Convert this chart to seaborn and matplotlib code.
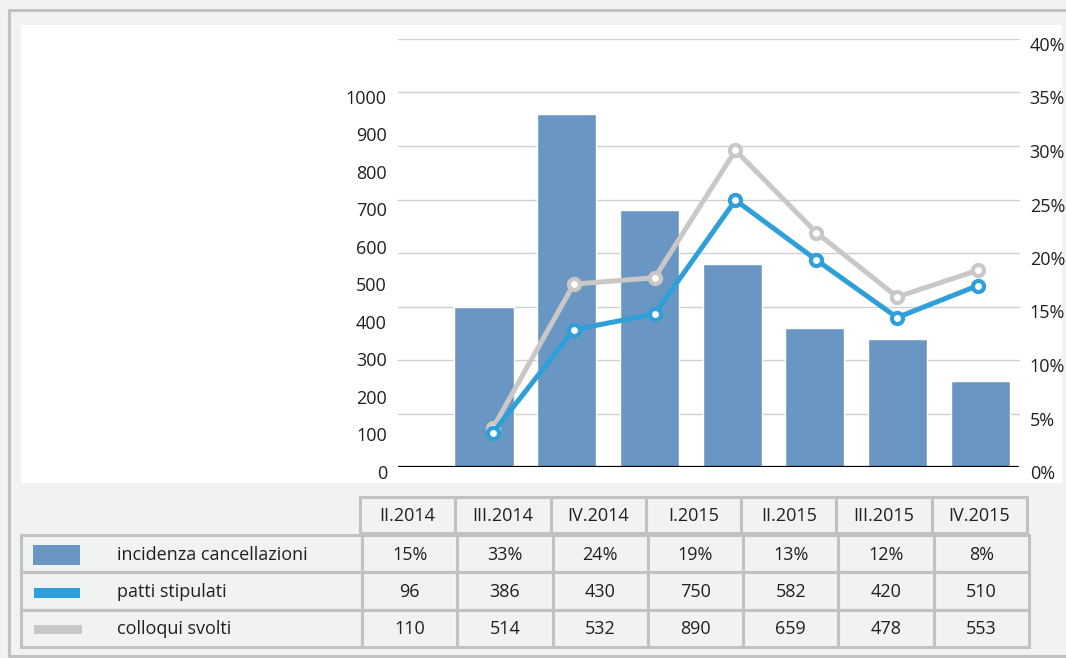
import numpy as np
import pandas as pd
import matplotlib
matplotlib.use("Agg")
import matplotlib.pyplot as plt
import matplotlib.transforms as mtransforms
from matplotlib.patches import Rectangle
from matplotlib.lines import Line2D
import seaborn as sns

# -------------------------------
# DATA
# -------------------------------
quarters = ["II.2014", "III.2014", "IV.2014", "I.2015", "II.2015", "III.2015", "IV.2015"]
incidenza = [15, 33, 24, 19, 13, 12, 8]          # % cancellazioni (bars, right axis)
patti = [96, 386, 430, 750, 582, 420, 510]        # patti stipulati (line, left axis)
colloqui = [110, 514, 532, 890, 659, 478, 553]    # colloqui svolti (line, left axis)

series_names = ["incidenza cancellazioni", "patti stipulati", "colloqui svolti"]
left_ticks = [0, 100, 200, 300, 400, 500, 600, 700, 800, 900, 1000]
right_ticks = [0, 5, 10, 15, 20, 25, 30, 35, 40]

# -------------------------------
# STYLE
# -------------------------------
BAR_COLOR = "#6a96c3"
PATTI_COLOR = "#2f9fd9"
COLLOQUI_COLOR = "#c9c8c7"
GRID_COLOR = "#d0d0d0"
BORDER_COLOR = "#c0c1c2"
BG_COLOR = "#f1f2f2"
TEXT_COLOR = "#231f20"
FS = 13

sns.set_theme(style="white")
plt.rcParams["font.family"] = ["Open Sans", "DejaVu Sans"]

W, H = 1066, 658
fig = plt.figure(figsize=(W / 100, H / 100), dpi=100, facecolor=BG_COLOR)


def fx(x):
    return x / W


def fy(y):
    return 1 - y / H


def frect(x0, y0, x1, y1, **kw):
    fig.add_artist(Rectangle((fx(x0), fy(y1)), (x1 - x0) / W, (y1 - y0) / H,
                             transform=fig.transFigure, **kw))


def clean(a):
    a.set_facecolor("none")
    a.set_xticks([])
    a.set_xlabel("")
    a.set_ylabel("")
    for s in a.spines.values():
        s.set_visible(False)


# outer frame and white chart panel (behind the axes)
fig.add_artist(Line2D([fx(9), fx(9)], [fy(10), fy(656)], color=BORDER_COLOR, lw=2.2, zorder=-2))
fig.add_artist(Line2D([fx(9), 1], [fy(10), fy(10)], color=BORDER_COLOR, lw=2.2, zorder=-2))
fig.add_artist(Line2D([fx(9), 1], [fy(656), fy(656)], color=BORDER_COLOR, lw=2.2, zorder=-2))
frect(21, 25, 1062, 483, facecolor="white", edgecolor="none", zorder=-1)

# -------------------------------
# CHART
# -------------------------------
rect = [fx(398), fy(467), (1020 - 398) / W, (467 - 39) / H]
shift = mtransforms.ScaledTranslation(0, -5 / 100, fig.dpi_scale_trans)

# printed left scale (the original's labels are spaced a bit tighter than the lines)
ax3 = fig.add_axes(rect)
ax3.set_ylim(0, 1141)
ax3.set_yticks(left_ticks)
ax3.set_yticklabels([str(t) for t in left_ticks])
ax3.yaxis.tick_left()
clean(ax3)
ax3.tick_params(axis="y", length=0, pad=8, labelsize=FS, labelcolor=TEXT_COLOR)

# bars, right axis
ax = fig.add_axes(rect)
df_bar = pd.DataFrame({"quarter": quarters, "incidenza": incidenza})
sns.barplot(data=df_bar, x="quarter", y="incidenza", color=BAR_COLOR,
            saturation=1, width=0.715, ax=ax, zorder=2)
ax.set_xlim(-1.04, 6.48)
ax.set_ylim(0, 40)
ax.set_yticks(right_ticks)
ax.set_yticklabels([f"{t}%" for t in right_ticks])
ax.yaxis.tick_right()
clean(ax)
ax.grid(axis="y", color=GRID_COLOR, lw=1.0, zorder=0)
ax.set_axisbelow(True)
ax.axhline(0, color="black", lw=1.6, zorder=3, xmax=(1018 - 398) / (1020 - 398))
ax.tick_params(axis="y", length=0, pad=7, labelsize=FS, labelcolor=TEXT_COLOR)

# lines on an overlaid axes (left scale)
ax2 = fig.add_axes(rect)
df_line = pd.DataFrame({
    "pos": list(range(len(quarters))) * 2,
    "value": colloqui + patti,
    "serie": ["colloqui svolti"] * len(quarters) + ["patti stipulati"] * len(quarters),
})
for name, col in [("colloqui svolti", COLLOQUI_COLOR), ("patti stipulati", PATTI_COLOR)]:
    sns.lineplot(data=df_line[df_line["serie"] == name], x="pos", y="value",
                 color=col, lw=3.6, marker="o", markersize=8,
                 markerfacecolor="white", markeredgecolor=col, markeredgewidth=3.0,
                 ax=ax2, zorder=4)
ax2.set_xlim(-1.175, 6.52)
ax2.set_ylim(0, 1203)
ax2.set_yticks([])
clean(ax2)

# tick labels sit a little below their gridlines, as in the original
for lbl in ax.get_yticklabels() + ax3.get_yticklabels():
    lbl.set_transform(lbl.get_transform() + shift)

# -------------------------------
# DATA TABLE
# -------------------------------
col_edges = np.linspace(360, 1027, len(quarters) + 1)
head_top, head_bot = 497, 533
row_edges = [535, 572, 610, 647]
cell_kw = dict(facecolor=BG_COLOR, edgecolor=BORDER_COLOR, lw=2.2)

for i, q in enumerate(quarters):
    frect(col_edges[i], head_top, col_edges[i + 1], head_bot, **cell_kw)
    fig.text(fx((col_edges[i] + col_edges[i + 1]) / 2), fy((head_top + head_bot) / 2 + 1), q,
             ha="center", va="center", fontsize=FS, color=TEXT_COLOR)

table_vals = [
    [f"{v}%" for v in incidenza],
    [str(v) for v in patti],
    [str(v) for v in colloqui],
]
body_edges = np.linspace(362, 1029, len(quarters) + 1)
for r in range(3):
    y0, y1 = row_edges[r], row_edges[r + 1]
    yc = (y0 + y1) / 2 + 1
    frect(21, y0, body_edges[0], y1, **cell_kw)
    for i in range(len(quarters)):
        frect(body_edges[i], y0, body_edges[i + 1], y1, **cell_kw)
        fig.text(fx((body_edges[i] + body_edges[i + 1]) / 2), fy(yc), table_vals[r][i],
                 ha="center", va="center", fontsize=FS, color=TEXT_COLOR)
    fig.text(fx(117), fy(yc), series_names[r], ha="left", va="center",
             fontsize=FS, color=TEXT_COLOR)

# legend swatches
frect(33, 545, 80, 565, facecolor=BAR_COLOR, edgecolor="none")
frect(34, 588, 80, 598, facecolor=PATTI_COLOR, edgecolor="none")
frect(34, 625, 82, 634, facecolor=COLLOQUI_COLOR, edgecolor="none")

fig.savefig("out.png", dpi=100, facecolor=BG_COLOR)
